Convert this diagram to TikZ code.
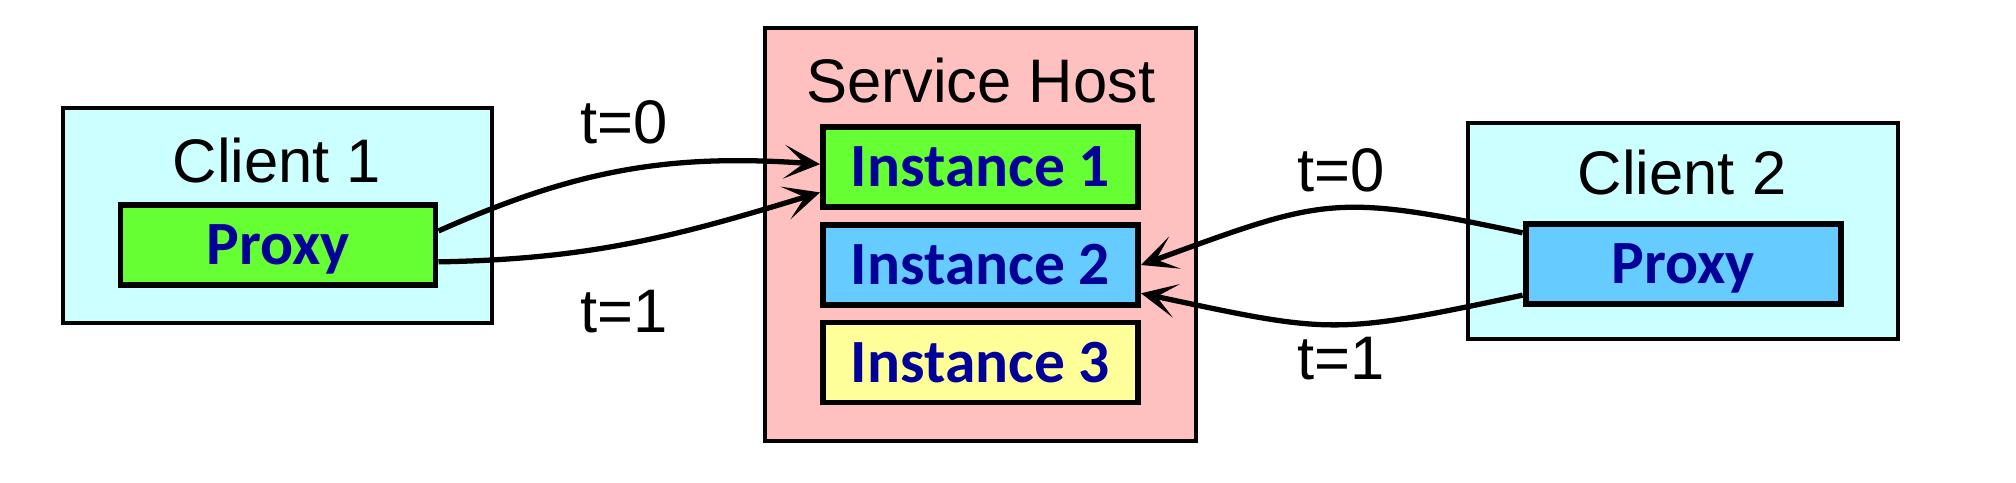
\documentclass[tikz,border=0pt]{standalone}
\usepackage{fontspec}
\setmainfont{Liberation Sans}
\newfontfamily\calibrifont{Carlito}
\usepackage{tikz}
\usetikzlibrary{arrows.meta, positioning, calc}
\definecolor{clientcyan}{RGB}{204, 255, 255}
\definecolor{hostpink}{RGB}{255, 192, 192}
\definecolor{instgreen}{RGB}{102, 255, 51}
\definecolor{instblue}{RGB}{102, 204, 255}
\definecolor{instyellow}{RGB}{255, 255, 153}
\definecolor{labelblue}{RGB}{0, 0, 153}
\tikzset{
  outerbox/.style={draw, line width=1.2pt, minimum width=4.29cm, inner sep=0pt},
  innerbox/.style={draw, line width=1.7pt, minimum width=3.15cm, minimum height=0.8cm,
    inner sep=0pt, text=labelblue, text height=0.39cm, text depth=0pt,
    font=\calibrifont\bfseries\fontsize{17.5}{20}\selectfont},
  titletext/.style={anchor=base, font=\fontsize{17.5}{21}\selectfont},
  call/.style={line width=1.5pt, -{Stealth[length=0.36cm, width=0.34cm, inset=0.2cm]}}
}
\begin{document}
\begin{tikzpicture}
  \useasboundingbox (0, 0) rectangle (20.16, 4.82);

  % Client 1
  \node[outerbox, fill=clientcyan, minimum height=2.15cm] (client1) at (2.775, 2.665) {};
  \node[titletext] (client1title) at (2.77, 2.99) {Client 1};
  \node[innerbox, fill=instgreen] (proxy1) at (2.78, 2.37) {Proxy};

  % Service host
  \node[outerbox, fill=hostpink, minimum width=4.31cm, minimum height=4.13cm] (host) at (9.805, 2.475) {};
  \node[titletext] (hosttitle) at (9.81, 3.79) {Service Host};
  \node[innerbox, fill=instgreen] (inst1) at (9.805, 3.15) {Instance 1};
  \node[innerbox, fill=instblue] (inst2) at (9.805, 2.17) {Instance 2};
  \node[innerbox, fill=instyellow] (inst3) at (9.805, 1.195) {Instance 3};

  % Client 2
  \node[outerbox, fill=clientcyan, minimum width=4.30cm, minimum height=2.16cm] (client2) at (16.83, 2.51) {};
  \node[titletext] (client2title) at (16.82, 2.87) {Client 2};
  \node[innerbox, fill=instblue] (proxy2) at (16.83, 2.18) {Proxy};

  % Calls
  \draw[call] (proxy1.5) to[out=24, in=176] (inst1.179);
  \draw[call] (proxy1.-6) to[out=1, in=197] (inst1.189);
  \draw[call] (proxy2.169) to[out=168, in=20, looseness=1.3] (inst2.east);
  \draw[call] (proxy2.191) to[out=192, in=-12, looseness=1.3] (inst2.-10);

  % Time labels
  \node[titletext] (t0left) at (6.24, 3.38) {t=0};
  \node[titletext] (t1left) at (6.24, 1.50) {t=1};
  \node[titletext] (t0right) at (13.41, 2.90) {t=0};
  \node[titletext] (t1right) at (13.41, 1.03) {t=1};
\end{tikzpicture}
\end{document}
